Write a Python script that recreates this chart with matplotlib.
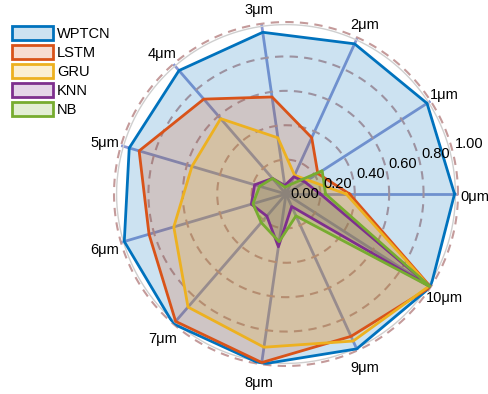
import numpy as np
import matplotlib.pyplot as plt
from matplotlib.patches import Patch
from matplotlib.colors import to_rgba

plt.rcParams['font.family'] = ['Liberation Sans', 'DejaVu Sans']

# spectral bins around the chart
categories = ['0μm', '1μm', '2μm', '3μm', '4μm', '5μm', '6μm', '7μm', '8μm', '9μm', '10μm']

# normalised scores per model
wptcn = [0.98, 0.975, 0.96, 0.95, 0.95, 0.95, 0.98, 1.00, 1.00, 0.99, 1.00]
lstm = [0.37, 0.22, 0.36, 0.57, 0.73, 0.89, 0.83, 0.98, 0.99, 0.91, 1.00]
gru = [0.35, 0.15, 0.12, 0.33, 0.58, 0.57, 0.68, 0.87, 0.90, 0.94, 0.99]
knn = [0.20, 0.13, 0.11, 0.05, 0.12, 0.19, 0.21, 0.17, 0.31, 0.08, 1.00]
nb = [0.23, 0.25, 0.06, 0.04, 0.12, 0.16, 0.20, 0.22, 0.28, 0.14, 1.00]

series_names = ['WPTCN', 'LSTM', 'GRU', 'KNN', 'NB']
series_colors = ['#0072BD', '#D95319', '#EDB120', '#7E2F8E', '#77AC30']

r_ticks = [0.0, 0.2, 0.4, 0.6, 0.8, 1.0]
r_tick_labels = ['0.00', '0.20', '0.40', '0.60', '0.80', '1.00']

fig = plt.figure(figsize=(4.89, 3.94), dpi=100)
ax = fig.add_axes([0.2331, 0.0711, 0.7035, 0.873], projection='polar')
ax.set_ylim(0, 1)
ax.set_xticks([])
ax.set_yticks([])
ax.grid(False)
ax.spines['polar'].set_visible(False)

n = len(categories)
theta = np.arange(n) * 2 * np.pi / n
theta_c = np.append(theta, theta[0])

# spokes
for t in theta:
    ax.plot([t, t], [0, 1], color='#8b98d3', lw=2, zorder=1, solid_capstyle='butt')

# dashed rings and thin outer circle
ring = np.linspace(0, 2 * np.pi, 400)
for r in r_ticks[1:]:
    ax.plot(ring, np.full_like(ring, r), color='#c49a9a', lw=1.5,
            ls=(0, (4, 3)), zorder=1, clip_on=False)
ax.plot(ring, np.full_like(ring, 0.985), color='#cfcfcf', lw=1, zorder=1)

all_series = [wptcn, lstm, gru, knn, nb]
for vals, c in zip(all_series, series_colors):
    v = np.append(vals, vals[0])
    ax.fill(theta_c, v, color=c, alpha=0.2, zorder=2, lw=0)
    ax.plot(theta_c, v, color=c, lw=2, zorder=3)

# radial labels along a fixed angle
lab_ang = np.deg2rad(17)
for r, lab in zip(r_ticks, r_tick_labels):
    ax.annotate(lab, xy=(lab_ang, r), xytext=(3, 0), textcoords='offset points',
                ha='left', va='center', fontsize=10.5, zorder=5)

# category labels
for t, lab in zip(theta, categories):
    ax.annotate(lab, xy=(t, 1.0), xytext=(12 * np.cos(t), 12 * np.sin(t) - 1.8),
                textcoords='offset points', ha='center', va='center',
                fontsize=10.5, annotation_clip=False)

handles = [Patch(facecolor=to_rgba(c, 0.2), edgecolor=c, linewidth=2)
           for c in series_colors]
fig.legend(handles, series_names, loc='upper left',
           bbox_to_anchor=(12 / 489, 1 - 26 / 394), frameon=False,
           handlelength=2.8, handleheight=1.05, labelspacing=0.3,
           handletextpad=0.3, borderpad=0, borderaxespad=0, fontsize=10.5)

fig.savefig('out.png', dpi=100)
